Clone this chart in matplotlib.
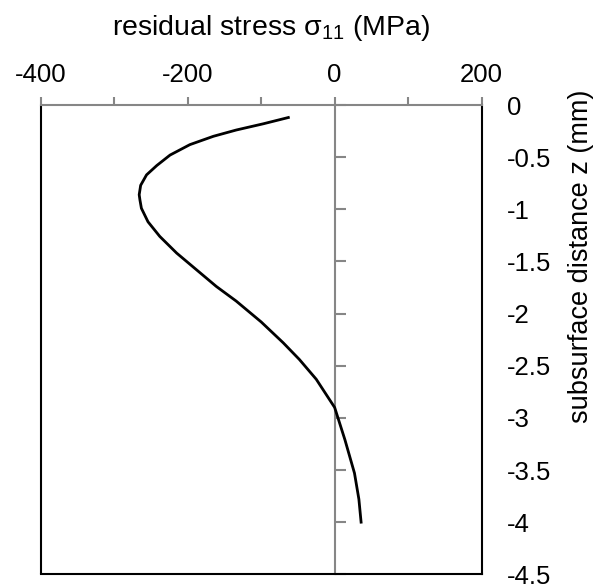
import matplotlib
matplotlib.use("Agg")
import matplotlib.pyplot as plt

plt.rcParams["font.family"] = ["Liberation Sans", "DejaVu Sans"]
plt.rcParams["mathtext.fontset"] = "custom"
plt.rcParams["mathtext.rm"] = "Liberation Sans"

# ---- data ----
stress = [-63, -97, -134, -165, -197, -224, -242, -256, -264, -266, -265,
          -263, -254, -238, -215, -188, -161, -134, -100, -70, -48,
          -25, 0, 14, 27, 33, 36]
depth = [-0.12, -0.18, -0.24, -0.30, -0.38, -0.48, -0.58, -0.67, -0.77, -0.86,
         -0.91, -0.99, -1.12, -1.26, -1.42, -1.58, -1.74, -1.88, -2.08,
         -2.28, -2.44, -2.63, -2.90, -3.21, -3.53, -3.78, -4.0]

x_ticks = [-400, -300, -200, -100, 0, 100, 200]
x_labels = ["-400", "", "-200", "", "0", "", "200"]
y_ticks = [0, -0.5, -1, -1.5, -2, -2.5, -3, -3.5, -4, -4.5]
y_labels = ["0", "-0.5", "-1", "-1.5", "-2", "-2.5", "-3", "-3.5", "-4", "-4.5"]

grey = "#868686"

fig = plt.figure(figsize=(5.99, 5.84), dpi=100)
ax = fig.add_axes([0.068, 0.0166, 0.736, 0.8036])
ax.set_xlim(-400, 200)
ax.set_ylim(-4.5, 0)

ax.plot(stress, depth, color="black", lw=2, zorder=3,
        solid_joinstyle="round")

# ---- eixos cruzando em zero (estilo Excel) ----
ax.spines["left"].set_position(("data", 0))
ax.spines["left"].set_color(grey)
ax.spines["left"].set_linewidth(1.5)
ax.spines["top"].set_color(grey)
ax.spines["top"].set_linewidth(1.5)
ax.spines["top"].set_zorder(4)
for s in ["right", "bottom"]:
    ax.spines[s].set_color("black")
    ax.spines[s].set_linewidth(1.5)
# borda esquerda da área do gráfico
ax.plot([0, 0], [0, 1], color="black", lw=1.5, transform=ax.transAxes,
        clip_on=False, solid_capstyle="butt", zorder=2)

ax.xaxis.tick_top()
ax.set_xticks(x_ticks)
ax.set_xticklabels(x_labels)
ax.tick_params(axis="x", direction="out", length=6, width=1.5, color=grey,
               labelsize=18.5, pad=7)

ax.yaxis.set_ticks_position("left")
ax.set_yticks(y_ticks)
ax.tick_params(axis="y", direction="in", length=8, width=1.5, color=grey,
               labelleft=False)

ax2 = ax.twinx()
ax2.set_ylim(-4.5, 0)
ax2.set_yticks(y_ticks)
ax2.set_yticklabels(y_labels)
ax2.tick_params(axis="y", length=0, pad=18, labelsize=18.5)
for s in ax2.spines.values():
    s.set_visible(False)

fig.text(271 / 599, 1 - 35 / 584, r"residual stress σ$_{\mathrm{11}}$ (MPa)",
         ha="center", va="baseline", fontsize=20.5)
fig.text(581 / 599, 1 - 256 / 584, "subsurface distance z (mm)",
         ha="center", va="center", rotation=90, fontsize=19.5)

fig.savefig("out.png", dpi=100)
